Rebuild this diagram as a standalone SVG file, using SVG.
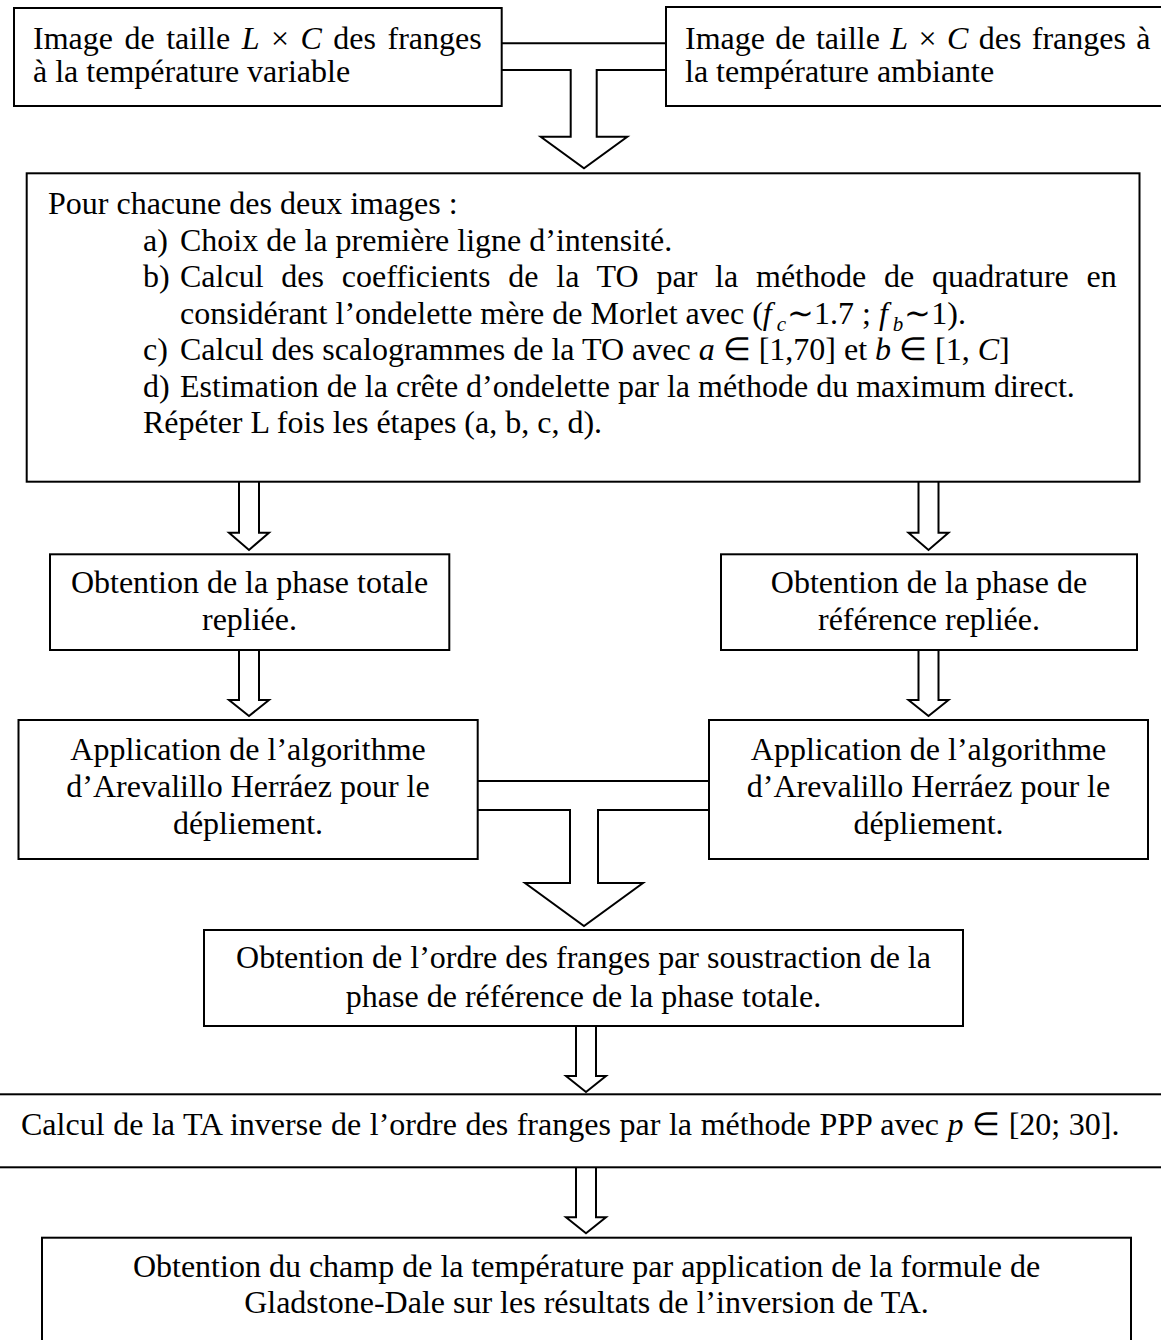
<svg xmlns="http://www.w3.org/2000/svg" width="1161" height="1340" viewBox="0 0 1161 1340">
<style>
.box{fill:#fff;stroke:#000;stroke-width:2}
.con{fill:none;stroke:#000;stroke-width:2;stroke-linejoin:miter}
text{font-family:"Liberation Serif","Times New Roman",serif;font-size:32px;fill:#000}
.c{text-anchor:middle}
.i{font-style:italic}
.s{font-size:21px;font-style:italic}
</style>
<rect width="1161" height="1340" fill="#fff"/>
<g id="connectors">
<path class="con" d="M501.7,43.3 H666"/>
<path class="con" d="M501.7,70 H570.7 V136.7 H540.7 L584,168.3 L627.3,136.7 H596.7 V70 H666"/>
<path class="con" d="M239,481.7 V532.7 H229 L249,550 L269,532.7 H259 V481.7"/>
<path class="con" d="M918.5,481.7 V532.7 H908.5 L928.5,550 L948.5,532.7 H938.5 V481.7"/>
<path class="con" d="M239,650 V700 H229 L249,716 L269,700 H259 V650"/>
<path class="con" d="M918.5,650 V700 H908.5 L928.5,716 L948.5,700 H938.5 V650"/>
<path class="con" d="M477.7,781 H709"/>
<path class="con" d="M477.7,810 H570 V883 H525 L584,926 L643,883 H598 V810 H709"/>
<path class="con" d="M576,1026 V1076 H566 L586,1092 L606,1076 H596 V1026"/>
<path class="con" d="M576,1167.3 V1217.3 H566 L586,1233.3 L606,1217.3 H596 V1167.3"/>
</g>
<g id="n1">
<rect class="box" x="14" y="8" width="487.7" height="98"/>
<text x="33" y="49" word-spacing="3.5">Image de taille <tspan class="i">L</tspan> × <tspan class="i">C</tspan> des franges</text>
<text x="33" y="82">à la température variable</text>
</g>
<g id="n2">
<rect class="box" x="666" y="7" width="510" height="99"/>
<text x="685" y="49" word-spacing="2.4">Image de taille <tspan class="i">L</tspan> × <tspan class="i">C</tspan> des franges à</text>
<text x="685" y="82">la température ambiante</text>
</g>
<g id="n3">
<rect class="box" x="26.7" y="173.3" width="1112.8" height="308.4"/>
<text x="48" y="214">Pour chacune des deux images :</text>
<text x="143" y="250.5">a)</text>
<text x="180" y="250.5">Choix de la première ligne d’intensité.</text>
<text x="143" y="287">b)</text>
<text x="180" y="287" word-spacing="9.8">Calcul des coefficients de la TO par la méthode de quadrature en</text>
<text x="180" y="323.5">considérant l’ondelette mère de Morlet avec (<tspan class="i">f</tspan><tspan class="s" dx="5" dy="7">c</tspan><tspan dx="1" dy="-7">∼1.7 ; </tspan><tspan class="i">f</tspan><tspan class="s" dx="5" dy="7">b</tspan><tspan dx="1" dy="-7">∼1).</tspan></text>
<text x="143" y="360">c)</text>
<text x="180" y="360">Calcul des scalogrammes de la TO avec <tspan class="i">a</tspan> ∈ [1,70] et <tspan class="i">b</tspan> ∈ [1, <tspan class="i">C</tspan>]</text>
<text x="143" y="396.5">d)</text>
<text x="180" y="396.5">Estimation de la crête d’ondelette par la méthode du maximum direct.</text>
<text x="143" y="433">Répéter L fois les étapes (a, b, c, d).</text>
</g>
<g id="n4">
<rect class="box" x="50" y="554.3" width="399.3" height="95.7"/>
<text class="c" x="249.5" y="593">Obtention de la phase totale</text>
<text class="c" x="249.5" y="630">repliée.</text>
</g>
<g id="n5">
<rect class="box" x="721" y="554.3" width="416" height="95.7"/>
<text class="c" x="929" y="593">Obtention de la phase de</text>
<text class="c" x="929" y="630">référence repliée.</text>
</g>
<g id="n6">
<rect class="box" x="18.5" y="720" width="459.2" height="139"/>
<text class="c" x="248" y="760">Application de l’algorithme</text>
<text class="c" x="248" y="797">d’Arevalillo Herráez pour le</text>
<text class="c" x="248" y="834">dépliement.</text>
</g>
<g id="n7">
<rect class="box" x="709" y="720" width="439" height="139"/>
<text class="c" x="928.5" y="760">Application de l’algorithme</text>
<text class="c" x="928.5" y="797">d’Arevalillo Herráez pour le</text>
<text class="c" x="928.5" y="834">dépliement.</text>
</g>
<g id="n8">
<rect class="box" x="204" y="930" width="759" height="96"/>
<text class="c" x="583.5" y="968">Obtention de l’ordre des franges par soustraction de la</text>
<text class="c" x="583.5" y="1006.7">phase de référence de la phase totale.</text>
</g>
<g id="n9">
<rect class="box" x="-5" y="1094.3" width="1171" height="73"/>
<text x="21" y="1135" word-spacing="0.6">Calcul de la TA inverse de l’ordre des franges par la méthode PPP avec  <tspan class="i">p</tspan> ∈ [20; 30].</text>
</g>
<g id="n10">
<rect class="box" x="42" y="1237.7" width="1089" height="120"/>
<text class="c" x="586.5" y="1276.7">Obtention du champ de la température par application de la formule de</text>
<text class="c" x="586.5" y="1313.3">Gladstone-Dale sur les résultats de l’inversion de TA.</text>
</g>
</svg>
